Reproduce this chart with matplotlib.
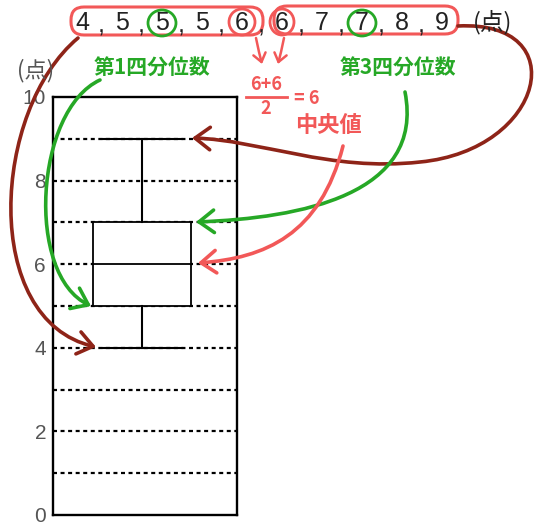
import numpy as np
import matplotlib
matplotlib.use('Agg')
import matplotlib.pyplot as plt
from matplotlib.patches import FancyArrowPatch, FancyBboxPatch, Ellipse
from matplotlib.path import Path

# data
scores = [4, 5, 5, 5, 6, 6, 7, 7, 8, 9]
yticks = [0, 2, 4, 6, 8, 10]
gridlines = [1, 2, 3, 4, 5, 6, 7, 8, 9]
unit = '(点)'
q1_label = '第1四分位数'
q3_label = '第3四分位数'
median_label = '中央値'

JP = ['Noto Sans CJK JP', 'DejaVu Sans']
NUM = ['Liberation Sans', 'DejaVu Sans']
DARKRED = '#8e2418'
GREEN = '#26a826'
RED = '#f25858'

W, H = 534, 524
fig = plt.figure(figsize=(W / 100, H / 100), dpi=100)

# box plot
ax = fig.add_axes([53 / W, 1 - 515 / H, 184 / W, 418 / H])
for g in gridlines:
    ax.axhline(g, color='black', lw=1.6, ls=(0, (1.8, 1.6)), zorder=1)
ax.boxplot(scores, positions=[0.485], widths=0.535, capwidths=0.43,
           patch_artist=True, showfliers=False,
           boxprops=dict(facecolor='white', edgecolor='black', lw=1.3),
           medianprops=dict(color='black', lw=1.3),
           whiskerprops=dict(color='black', lw=1.5),
           capprops=dict(color='black', lw=1.5), zorder=3)
ax.set_xlim(0, 1)
ax.set_ylim(0, 10)
ax.set_xticks([])
ax.set_yticks(yticks)
ax.set_yticklabels([str(t) for t in yticks], family=NUM)
ax.tick_params(axis='y', length=0, pad=5, labelsize=15, labelcolor='#555555')
for s in ax.spines.values():
    s.set_linewidth(1.7)

# overlay for the hand-written notes, in pixel coords
ov = fig.add_axes([0, 0, 1, 1], zorder=5)
ov.set_xlim(0, W)
ov.set_ylim(H, 0)
ov.axis('off')
ov.patch.set_alpha(0)

ov.text(36, 71, unit, ha='center', va='center', fontsize=16, color='#555555', family=JP)

xs = [82 + 40 * i for i in range(len(scores))]
for i, (x, s) in enumerate(zip(xs, scores)):
    ov.text(x, 23, str(s), ha='center', va='center', fontsize=18, color='#222222', family=NUM)
    if i < len(scores) - 1:
        ov.text(x + 19, 25, ',', ha='center', va='center', fontsize=18, color='#222222', family=NUM)
ov.text(493, 22, unit, ha='center', va='center', fontsize=17, color='#222222', family=JP)

# red groups and circles
ov.add_patch(FancyBboxPatch((71, 7), 192, 28, boxstyle='round,pad=0,rounding_size=13',
                            fc='none', ec=RED, lw=2.2))
ov.add_patch(FancyBboxPatch((274, 6), 184, 28, boxstyle='round,pad=0,rounding_size=13',
                            fc='none', ec=RED, lw=2.2))
ov.add_patch(Ellipse((xs[4], 22), 26, 26, fc='none', ec=RED, lw=2))
ov.add_patch(Ellipse((xs[5], 22), 24, 26, fc='none', ec=RED, lw=2))
ov.add_patch(Ellipse((xs[2], 23), 28, 26, fc='none', ec=GREEN, lw=2))
ov.add_patch(Ellipse((xs[7], 23), 28, 26, fc='none', ec=GREEN, lw=2))

# labels
ov.text(152, 68, q1_label, ha='center', va='center', fontsize=15, color=GREEN,
        family=JP, weight='bold')
ov.text(398, 68, q3_label, ha='center', va='center', fontsize=15, color=GREEN,
        family=JP, weight='bold')
ov.text(266, 85, '6+6', ha='center', va='center', fontsize=13, color=RED, family=JP, weight='bold')
ov.plot([246, 287], [97, 97], color=RED, lw=2)
ov.text(266, 109, '2', ha='center', va='center', fontsize=13, color=RED, family=JP, weight='bold')
ov.text(307, 99, '= 6', ha='center', va='center', fontsize=13, color=RED, family=JP, weight='bold')
ov.text(328, 126, median_label, ha='center', va='center', fontsize=16, color=RED,
        family=JP, weight='bold')


def curve(pts, color, scale=18, lw=2.6):
    codes = [Path.MOVETO] + [Path.CURVE4] * (len(pts) - 1)
    arr = FancyArrowPatch(path=Path(pts, codes), arrowstyle='->,head_length=0.6,head_width=0.45',
                          mutation_scale=scale, color=color, lw=lw, capstyle='round',
                          joinstyle='round')
    ov.add_patch(arr)


curve([(78, 38), (-8, 110), (-20, 320), (96, 347)], DARKRED)
curve([(458, 26), (575, 20), (545, 150), (420, 162),
       (330, 172), (260, 140), (192, 138)], DARKRED)
curve([(100, 80), (35, 110), (25, 275), (91, 306)], GREEN)
curve([(405, 92), (425, 195), (300, 218), (196, 222)], GREEN)
curve([(343, 146), (320, 235), (265, 258), (198, 263)], RED)
curve([(256, 38), (258, 48), (260, 56), (262, 64)], RED, scale=10, lw=1.8)
curve([(284, 38), (282, 48), (280, 56), (278, 64)], RED, scale=10, lw=1.8)

fig.savefig('out.png', dpi=100)
